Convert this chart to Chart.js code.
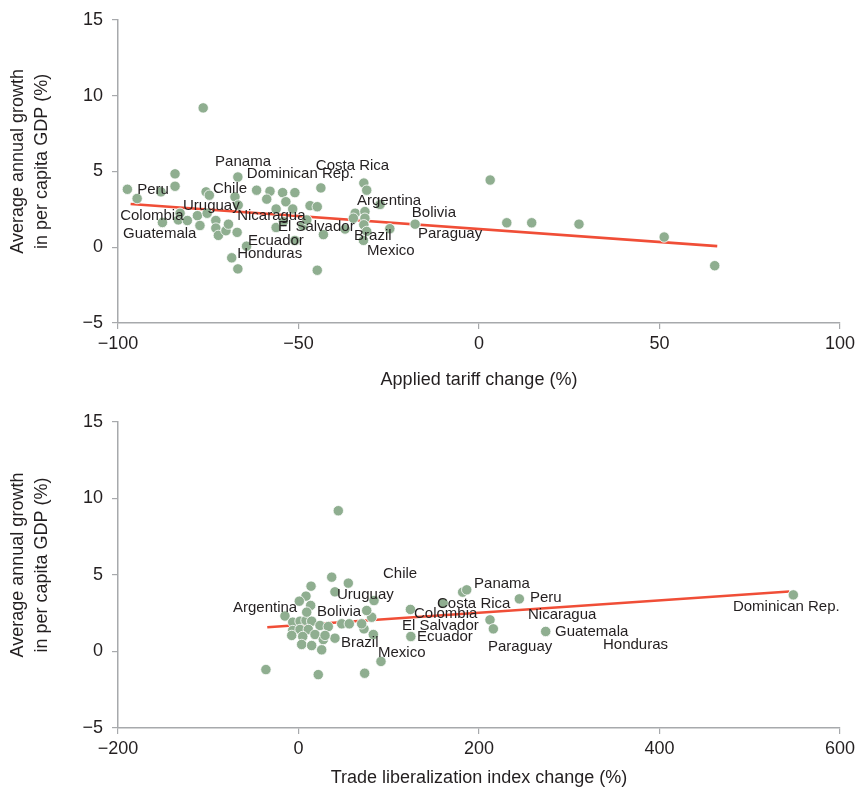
<!DOCTYPE html>
<html>
<head>
<meta charset="utf-8">
<script src="https://cdn.jsdelivr.net/npm/chart.js@4"></script>
<style>
  html, body { margin: 0; padding: 0; background: #fff; }
  .panel { position: relative; width: 859px; height: 399px; }
</style>
</head>
<body>
<div class="panel"><canvas id="tariffChart"></canvas></div>
<div class="panel"><canvas id="tradeChart"></canvas></div>
<script>
// --- Data: top panel (applied tariff change vs growth) ---
const tariffX = [-97.4, -94.7, -88.1, -84.2, -84.2, -87.7, -83.3, -82.8, -80.8, -78.0, -77.3, -76.4, -75.6, -74.7, -75.3, -72.9,
  -72.9, -72.2, -70.1, -69.4, -66.8, -67.6, -66.7, -67.0, -68.5, -66.8, -64.4, -61.6, -57.9, -58.8, -56.2, -54.4,
  -53.5, -51.0, -51.6, -56.2, -54.2, -51.0, -46.8, -44.8, -43.8, -43.1, -44.8, -48.8, -31.9, -31.1, -34.3, -31.6,
  -31.6, -34.8, -31.9, -31.1, -32.0, -37.1, -27.4, -24.7, -17.7, 3.1, 7.7, 14.6, 27.7, 51.3, 65.3, -47.7];
const tariffY = [3.82, 3.21, 3.65, 4.84, 4.02, 1.63, 1.80, 2.24, 1.76, 2.08, 1.43, 9.19, 3.65, 3.43, 2.24, 1.76,
  1.26, 0.78, 1.09, 1.52, 4.63, 3.32, 2.78, 0.98, -0.70, -1.43, 0.07, 3.76, 3.69, 3.17, 2.52, 3.60,
  3.00, 3.60, 2.52, 1.30, 1.69, 0.44, 2.74, 2.67, 3.91, 0.83, -1.52, 1.43, 4.23, 3.76, 2.24, 2.35,
  1.91, 1.91, 1.48, 1.04, 0.45, 1.20, 2.82, 1.22, 1.52, 4.43, 1.61, 1.61, 1.52, 0.67, -1.22, 1.80];
const tariffFitX = [-96.5, 66.0];
const tariffFitY = [2.85, 0.07];
const tariffLabels = ['Panama', 'Dominican Rep.', 'Peru', 'Chile', 'Costa Rica', 'Argentina', 'Uruguay', 'Colombia', 'Nicaragua',
  'Bolivia', 'Guatemala', 'El Salvador', 'Paraguay', 'Brazil', 'Ecuador', 'Honduras', 'Mexico'];
const tariffLabelX = [-73.1, -64.3, -94.7, -73.7, -45.2, -33.8, -82.0, -99.4, -67.0, -18.6, -98.6, -55.7, -16.9, -34.6, -64.0, -67.0, -31.0];
const tariffLabelY = [5.60, 4.82, 3.78, 3.84, 5.34, 3.06, 2.74, 2.08, 2.08, 2.28, 0.85, 1.37, 0.91, 0.78, 0.39, -0.46, -0.26];

// --- Data: bottom panel (trade liberalization index change vs growth) ---
const tradeX = [44.1, 36.8, 55.2, 13.9, 8.3, 0.9, 40.4, 13.5, 83.7, 81.1, 75.6, -15.0, -6.4, 1.7, 8.3, 14.6,
  23.8, 33.0, -6.4, 1.7, 10.9, 18.3, 4.7, 27.5, 40.4, 3.5, 14.6, 25.7, 47.9, 56.3, 72.6, 82.9,
  91.4, -36.1, 21.9, 73.3, 124.0, 124.5, 160.4, 181.9, 186.4, 212.2, 215.9, 244.7, 273.9, 548.3, 9.1, -7.5,
  29.4, 70.0];
const tradeY = [9.2, 4.86, 4.47, 4.27, 3.62, 3.29, 3.90, 3.01, 3.33, 2.24, 2.68, 2.32, 1.92, 1.98, 2.03, 1.98,
  1.70, 1.63, 1.37, 1.44, 1.44, 1.11, 0.98, 0.78, 0.87, 0.46, 0.39, 0.11, 1.81, 1.81, 1.48, 1.11,
  -0.65, -1.18, -1.51, -1.42, 2.75, 0.98, 3.16, 3.88, 4.03, 2.07, 1.48, 3.44, 1.31, 3.70, 2.57, 1.05,
  1.05, 1.81];
const tradeFitX = [-34.6, 543.8];
const tradeFitY = [1.59, 3.92];
const tradeLabels = ['Argentina', 'Bolivia', 'Uruguay', 'Chile', 'Brazil', 'Mexico', 'Panama', 'Costa Rica', 'Colombia',
  'El Salvador', 'Ecuador', 'Peru', 'Nicaragua', 'Guatemala', 'Paraguay', 'Honduras', 'Dominican Rep.'];
const tradeLabelX = [-72.6, 20.5, 42.7, 93.6, 47.1, 88.1, 194.5, 153.5, 128.0, 114.7, 131.3, 256.5, 254.3, 284.2, 210.0, 337.4, 481.4];
const tradeLabelY = [2.88, 2.61, 3.73, 5.10, 0.59, -0.07, 4.44, 3.14, 2.48, 1.70, 0.98, 3.53, 2.42, 1.31, 0.33, 0.46, 2.94];

const yTitle = ['    Average annual growth', '    in per capita GDP (%)'];

// --- Styles ---
const FONT = "'Liberation Sans', Arial, sans-serif";
const TEXT = '#231f20';
const AXIS = '#a7a9ac';
const DOT = '#8fae90';
const FIT = '#f04e37';

Chart.defaults.font.family = FONT;
Chart.defaults.color = TEXT;

const zip = (xs, ys) => xs.map((x, i) => ({ x, y: ys[i] }));
const minus = v => String(v).replace('-', '\u2212');

// draws country names at their data positions
const countryLabels = {
  id: 'countryLabels',
  afterDatasetsDraw(chart, args, opts) {
    const { ctx, scales: { x, y } } = chart;
    ctx.save();
    ctx.font = `15px ${FONT}`;
    ctx.fillStyle = TEXT;
    ctx.textAlign = 'left';
    ctx.textBaseline = 'middle';
    opts.names.forEach((name, i) => {
      ctx.fillText(name, x.getPixelForValue(opts.xs[i]), y.getPixelForValue(opts.ys[i]));
    });
    ctx.restore();
  }
};

function makeChart(id, cfg) {
  const ctx = document.getElementById(id).getContext('2d');
  return new Chart(ctx, {
    type: 'scatter',
    data: {
      datasets: [{
        data: zip(cfg.xs, cfg.ys),
        backgroundColor: DOT,
        borderColor: '#ffffff',
        borderWidth: 0.8,
        pointRadius: 5.2,
        order: 1
      }, {
        type: 'line',
        data: zip(cfg.fitX, cfg.fitY),
        borderColor: FIT,
        borderWidth: 2.6,
        pointRadius: 0,
        fill: false,
        order: 2
      }]
    },
    options: {
      responsive: true,
      maintainAspectRatio: false,
      animation: false,
      layout: { padding: { top: cfg.padTop, right: 19, left: 0, bottom: 0 } },
      plugins: {
        legend: { display: false },
        tooltip: { enabled: false },
        countryLabels: { names: cfg.names, xs: cfg.labelX, ys: cfg.labelY }
      },
      scales: {
        x: {
          type: 'linear',
          min: cfg.xMin, max: cfg.xMax,
          afterFit: s => { s.height = cfg.xHeight; },
          border: { display: true, color: AXIS, width: 1.5 },
          grid: { drawOnChartArea: false, drawTicks: true, tickLength: 6, color: AXIS, lineWidth: 1.2 },
          ticks: { stepSize: cfg.xStep, padding: 4, font: { size: 18 }, color: TEXT, callback: minus },
          title: { display: true, text: cfg.xTitle, font: { size: 18 }, color: TEXT, padding: { bottom: cfg.titlePad, top: 0 } }
        },
        y: {
          min: -5, max: 15,
          afterFit: s => { s.width = 118; },
          border: { display: true, color: AXIS, width: 1.5 },
          grid: { drawOnChartArea: false, drawTicks: true, tickLength: 6, color: AXIS, lineWidth: 1.2 },
          ticks: { stepSize: 5, padding: 9, font: { size: 18 }, color: TEXT, callback: minus },
          title: { display: true, text: yTitle, font: { size: 18, lineHeight: 1.33 }, color: TEXT, padding: { top: 6, bottom: 0 } }
        }
      }
    },
    plugins: [countryLabels]
  });
}

makeChart('tariffChart', {
  xs: tariffX, ys: tariffY, fitX: tariffFitX, fitY: tariffFitY,
  names: tariffLabels, labelX: tariffLabelX, labelY: tariffLabelY,
  xMin: -100, xMax: 100, xStep: 50, xTitle: 'Applied tariff change (%)',
  padTop: 16, xHeight: 76, titlePad: 8
});

makeChart('tradeChart', {
  xs: tradeX, ys: tradeY, fitX: tradeFitX, fitY: tradeFitY,
  names: tradeLabels, labelX: tradeLabelX, labelY: tradeLabelY,
  xMin: -200, xMax: 600, xStep: 200, xTitle: 'Trade liberalization index change (%)',
  padTop: 23, xHeight: 70, titlePad: 9
});
</script>
</body>
</html>
